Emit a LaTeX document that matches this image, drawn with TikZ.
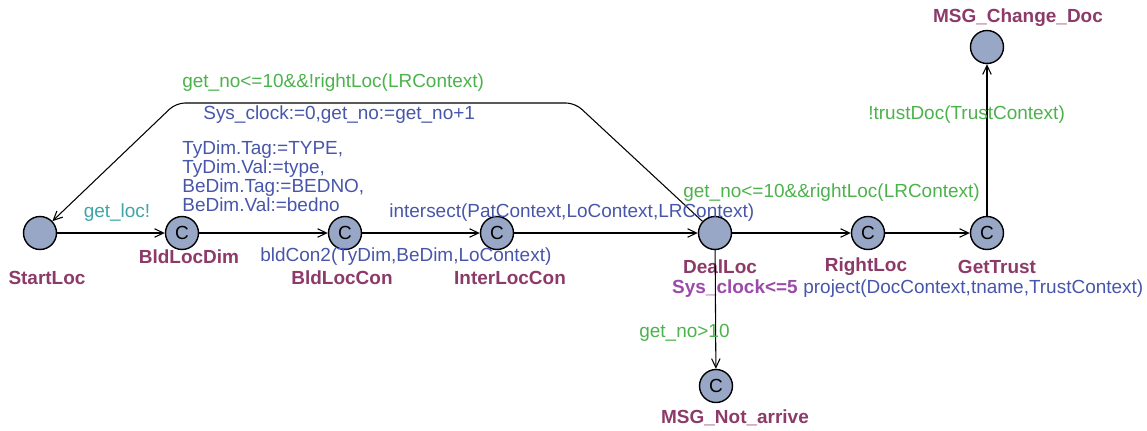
\documentclass[tikz,border=0pt]{standalone}
\usepackage{fontspec}
\setmainfont{Liberation Sans}
\usetikzlibrary{arrows.meta}
\definecolor{locfill}{RGB}{153,167,199}
\definecolor{namecol}{RGB}{140,58,104}
\definecolor{guardcol}{RGB}{76,178,76}
\definecolor{assigncol}{RGB}{72,86,170}
\definecolor{synccol}{RGB}{62,166,166}
\definecolor{invcol}{RGB}{156,74,170}
\begin{document}
\begin{tikzpicture}[x=0.02cm, y=-0.02cm, font=\fontsize{10.8}{10.8}\selectfont]

\tikzstyle{loc}=[circle, draw=black, line width=0.8pt, fill=locfill, minimum size=0.66cm, inner sep=0pt]
\tikzstyle{edge}=[line width=0.6pt, -{Straight Barb[length=1.8mm,width=1.7mm]}]
\tikzstyle{locname}=[text=namecol, font=\fontsize{10.8}{10.8}\selectfont\bfseries, inner sep=0pt]
\tikzstyle{inv}=[locname, text=invcol]
\tikzstyle{guard}=[text=guardcol, inner sep=0pt, anchor=west]
\tikzstyle{assign}=[text=assigncol, inner sep=0pt, anchor=west, align=left]
\tikzstyle{sync}=[text=synccol, inner sep=0pt]

\useasboundingbox (0,0) rectangle (1147,430);

\node[loc] (startloc) at (40,233) {};
\node[loc] (bldlocdim) at (182,233) {C};
\node[loc] (bldloccon) at (345,233) {C};
\node[loc] (interloccon) at (497,233) {C};
\node[loc] (dealloc) at (715,233) {};
\node[loc] (rightloc) at (868,233) {C};
\node[loc] (gettrust) at (987,233) {C};
\node[loc] (changedoc) at (987,47) {};
\node[loc] (notarrive) at (716,386) {C};

\node[locname] (startlocname) at (47,278) {StartLoc};
\node[locname] (bldlocdimname) at (189,257) {BldLocDim};
\node[locname] (bldlocconname) at (342,278) {BldLocCon};
\node[locname] (interlocconname) at (510,278) {InterLocCon};
\node[locname] (deallocname) at (720,267) {DealLoc};
\node[inv] (deallocinv) at (735,289) {Sys\_clock<=5};
\node[locname] (rightlocname) at (866,267) {RightLoc};
\node[locname] (gettrustname) at (997,267) {GetTrust};
\node[locname] (changedocname) at (1018,18) {MSG\_Change\_Doc};
\node[locname] (notarrivename) at (735,418) {MSG\_Not\_arrive};

\coordinate (nailright) at (575,103);
\coordinate (nailleft) at (176,103);

\draw[edge] (startloc) -- (bldlocdim);
\draw[edge] (bldlocdim) -- (bldloccon);
\draw[edge] (bldloccon) -- (interloccon);
\draw[edge] (interloccon) -- (dealloc);
\draw[edge] (dealloc) -- (rightloc);
\draw[edge] (rightloc) -- (gettrust);
\draw[edge] (gettrust) -- (changedoc);
\draw[edge] (dealloc) -- (notarrive);
\draw[edge, rounded corners=5pt] (dealloc) -- (nailright) -- (nailleft) -- (startloc);

\node[sync] (getloc) at (117,213) {get\_loc!};
\node[assign] (dimassign) at (182,176) {TyDim.Tag:=TYPE,\\TyDim.Val:=type,\\BeDim.Tag:=BEDNO,\\BeDim.Val:=bedno};
\node[assign] (bldcon) at (260,257) {bldCon2(TyDim,BeDim,LoContext)};
\node[assign] (intersect) at (389,213) {intersect(PatContext,LoContext,LRContext)};
\node[guard] (rightguard) at (683,193) {get\_no<=10\&\&rightLoc(LRContext)};
\node[assign] (project) at (803,289) {project(DocContext,tname,TrustContext)};
\node[guard] (trustguard) at (868,115) {!trustDoc(TrustContext)};
\node[guard] (notarriveguard) at (639,333) {get\_no>10};
\node[guard] (backguard) at (182,83) {get\_no<=10\&\&!rightLoc(LRContext)};
\node[assign] (backassign) at (203,115) {Sys\_clock:=0,get\_no:=get\_no+1};
\end{tikzpicture}
\end{document}
